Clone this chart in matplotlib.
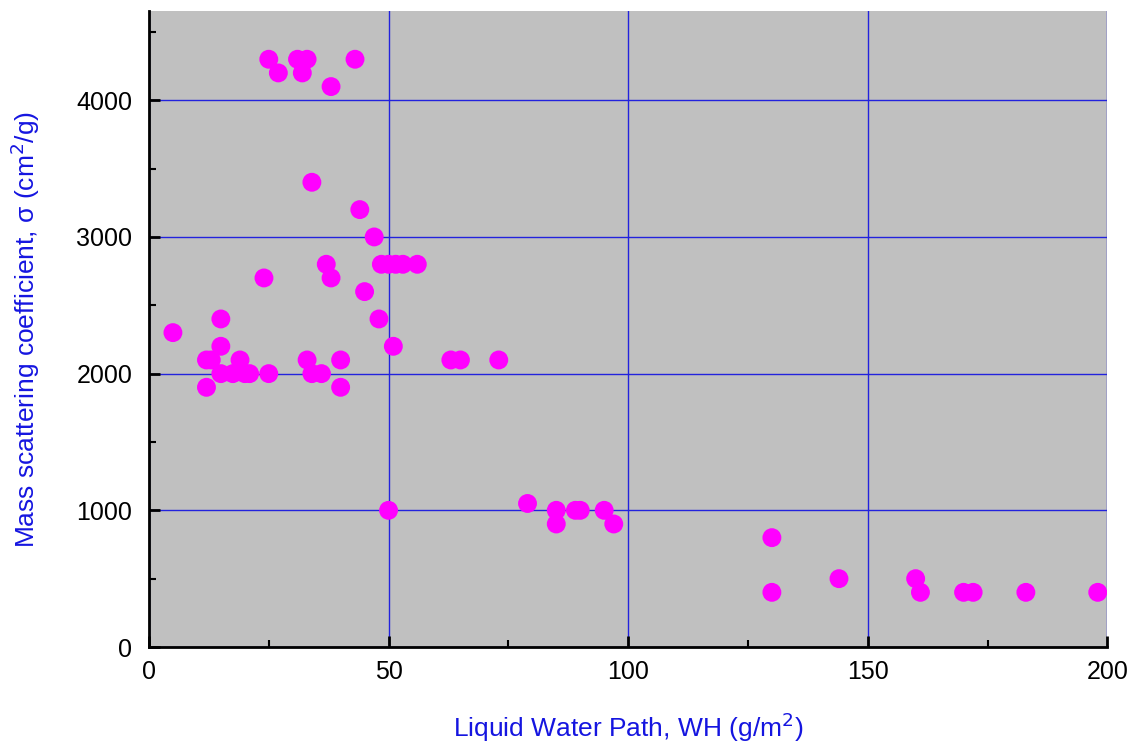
import matplotlib
matplotlib.use("Agg")
import matplotlib.pyplot as plt
from matplotlib.ticker import MultipleLocator

plt.rcParams['font.family'] = ['Liberation Sans', 'DejaVu Sans']

lwp = [25, 31, 33, 43, 27, 32, 38,
       34, 44, 47,
       37, 48.5, 50, 51.5, 53, 56,
       24, 38, 45,
       15, 48, 5, 15, 51,
       12, 13, 19, 33, 40, 63, 65, 73,
       15, 17.5, 20, 21, 25, 34, 36,
       12, 40,
       50, 79, 85, 89, 90, 95, 85, 97,
       130, 130, 144, 160, 161, 170, 172, 183, 198]
sigma = [4300, 4300, 4300, 4300, 4200, 4200, 4100,
         3400, 3200, 3000,
         2800, 2800, 2800, 2800, 2800, 2800,
         2700, 2700, 2600,
         2400, 2400, 2300, 2200, 2200,
         2100, 2100, 2100, 2100, 2100, 2100, 2100, 2100,
         2000, 2000, 2000, 2000, 2000, 2000, 2000,
         1900, 1900,
         1000, 1050, 1000, 1000, 1000, 1000, 900, 900,
         800, 400, 500, 500, 400, 400, 400, 400, 400]

x_ticks = [0, 50, 100, 150, 200]
y_ticks = [0, 1000, 2000, 3000, 4000]

fig = plt.figure(figsize=(11.32, 7.46), dpi=100)
ax = fig.add_axes([0.1316, 0.1327, 0.8466, 0.852])
ax.set_facecolor('#c0c0c0')
ax.scatter(lwp, sigma, s=185, color='#ff00ff', edgecolors='none', zorder=3)

ax.set_xlim(0, 200)
ax.set_ylim(0, 4650)
ax.set_xticks(x_ticks)
ax.set_yticks(y_ticks)
ax.xaxis.set_minor_locator(MultipleLocator(25))
ax.yaxis.set_minor_locator(MultipleLocator(500))
ax.grid(True, which='major', color='#2222dd', linewidth=1.0, zorder=1)
ax.set_axisbelow(True)

for s in ['top', 'right']:
    ax.spines[s].set_visible(False)
for s in ['left', 'bottom']:
    ax.spines[s].set_linewidth(2)
    ax.spines[s].set_color('black')

ax.tick_params(which='major', direction='in', length=8, width=2, labelsize=18, colors='black')
ax.tick_params(which='minor', direction='in', length=5, width=1.5)
ax.tick_params(axis='x', pad=9)
ax.tick_params(axis='y', pad=12)

label_color = '#1515e0'
ax.set_xlabel('Liquid Water Path, WH (g/m$^2$)', color=label_color, fontsize=19)
ax.set_ylabel('Mass scattering coefficient, \u03c3 (cm$^2$/g)', color=label_color, fontsize=19)
ax.xaxis.set_label_coords(0.5, -0.1)
ax.yaxis.set_label_coords(-0.112, 0.5)

fig.savefig('out.png', dpi=100)
